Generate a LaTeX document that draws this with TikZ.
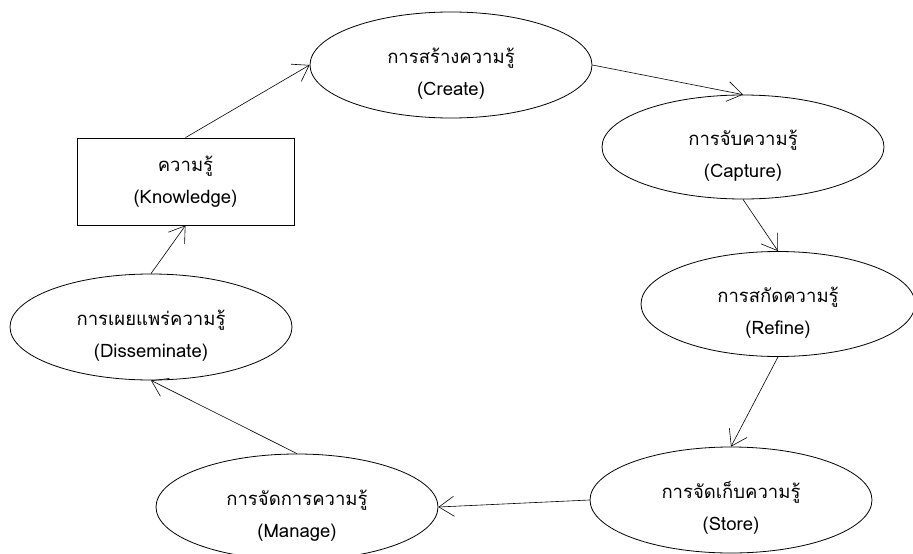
\documentclass[tikz,border=0pt]{standalone}
\usepackage{fontspec}
\setmainfont[Script=Thai]{Loma}
\usetikzlibrary{shapes.geometric,arrows.meta}
\newcommand{\lowr}{\rule{0pt}{33pt}}
\begin{document}
\begin{tikzpicture}[x=1pt,y=-1pt,
  txt/.style={align=center,font=\fontsize{18.5}{32}\selectfont},
  stage/.style={txt,draw=black,line width=0.8pt,ellipse,inner sep=0pt,minimum width=282pt,minimum height=106pt},
  kbox/.style={txt,draw=black,line width=0.8pt,rectangle,inner sep=0pt,minimum width=217pt,minimum height=87pt},
  flow/.style={draw=black,line width=0.6pt,-{Straight Barb[length=15pt,width=20pt,line width=0.6pt]}}]
\useasboundingbox (0,0) rectangle (913,554);
\node[stage] (create) at (451,65) {\lowr การสร้างความรู้\\(Create)};
\node[stage,minimum height=104pt] (capture) at (743,147) {\lowr การจับความรู้\\(Capture)};
\node[stage,minimum width=274pt,minimum height=105pt] (refine) at (778,304) {\lowr การสกัดความรู้\\(Refine)};
\node[stage] (store) at (731,500) {\lowr การจัดเก็บความรู้\\(Store)};
\node[stage] (manage) at (297,507) {\lowr การจัดการความรู้\\(Manage)};
\node[stage] (dissem) at (151,327) {\lowr การเผยแพร่ความรู้\\(Disseminate)};
\node[kbox] (know) at (185.5,181.5) {ความรู้\\(Knowledge)};
\draw[flow] (create.east) -- (capture.north);
\draw[flow] (capture.south) -- (refine.north);
\draw[flow] (refine.south) -- (store.north);
\draw[flow] (store.west) -- (manage.east);
\draw[flow] (manage.north) -- (dissem.south);
\draw[flow] (dissem.north) -- (know.south);
\draw[flow] (know.north) -- (create.west);
\end{tikzpicture}
\end{document}
